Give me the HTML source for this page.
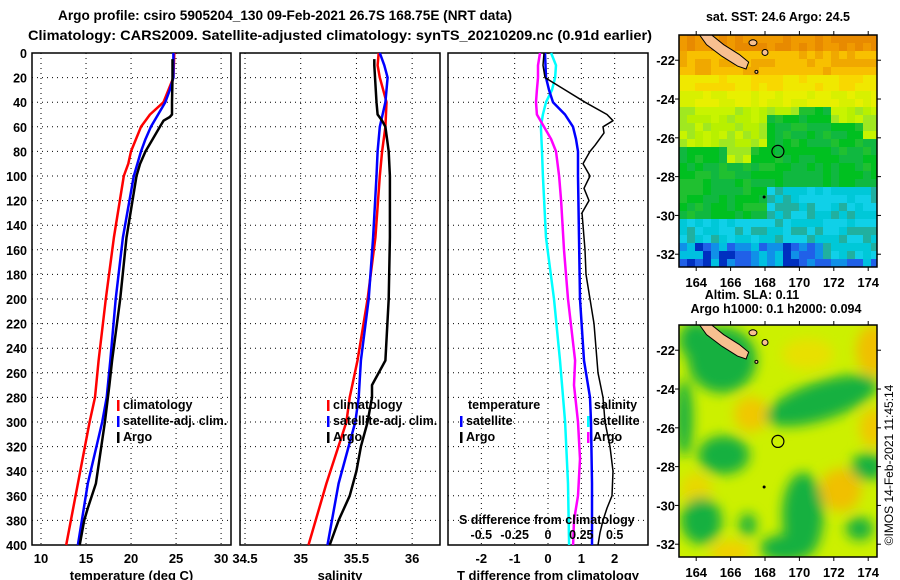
<!DOCTYPE html>
<html><head><meta charset="utf-8">
<style>
html,body{margin:0;padding:0;background:#fff;}
svg{display:block;font-family:"Liberation Sans",Arial,sans-serif;font-weight:bold;}
text{fill:#000;}
</style></head>
<body>
<svg id="fig" width="900" height="580" viewBox="0 0 900 580" xmlns="http://www.w3.org/2000/svg">
<defs>
<filter id="blur" x="-20%" y="-20%" width="140%" height="140%"><feGaussianBlur stdDeviation="6"/></filter>
<clipPath id="clipTop"><rect x="679" y="35" width="198" height="232"/></clipPath>
<clipPath id="clipBot"><rect x="679" y="325" width="198" height="232"/></clipPath>
</defs>
<text x="285" y="20" text-anchor="middle" font-size="14" textLength="454" lengthAdjust="spacingAndGlyphs">Argo profile: csiro 5905204_130 09-Feb-2021 26.7S 168.75E (NRT data)</text>
<text x="340" y="40" text-anchor="middle" font-size="14" textLength="624" lengthAdjust="spacingAndGlyphs">Climatology: CARS2009. Satellite-adjusted climatology: synTS_20210209.nc (0.91d earlier)</text>
<g id="panels"></g>
<g id="maps"></g>
<text transform="translate(893,465) rotate(-90)" text-anchor="middle" font-size="12" font-weight="normal">©IMOS 14-Feb-2021 11:45:14</text>
</svg>
<script>
// ---------- data ----------
const depthTicks = [0,20,40,60,80,100,120,140,160,180,200,220,240,260,280,300,320,340,360,380,400];
const tempTicks = [10,15,20,25,30];
const salTicks = [34.5,35,35.5,36];
const tdiffTicks = [-2,-1,0,1,2];
const sdiffTicks = [-0.5,-0.25,0,0.25,0.5];

const climTDepth = [0,20,40,50,60,80,90,100,150,200,250,280,300,350,400];
const climT      = [24.8,24.7,23.6,22.1,21.1,20.0,19.7,19.2,18.1,17.2,16.4,16.0,15.4,14.1,12.8];
const satTDepth  = [0,20,30,40,50,60,70,80,90,100,150,200,250,280,300,350,400];
const satT       = [24.7,24.7,24.3,23.8,23.0,22.2,21.6,21.1,20.7,20.3,19.1,18.3,17.7,17.3,16.8,15.2,14.1];
const argoTDepth = [5,20,40,50,52,55,60,70,80,90,100,150,200,250,270,300,320,350,370,380,400];
const argoT      = [24.6,24.6,24.55,24.55,24.3,23.6,23.2,22.4,21.6,21.0,20.6,19.5,18.8,17.9,17.6,17.1,16.7,16.1,15.2,14.8,14.3];

const climSDepth = [0,10,20,30,40,60,80,100,150,200,250,280,300,350,400];
const climS      = [35.70,35.69,35.71,35.74,35.77,35.76,35.73,35.71,35.67,35.60,35.51,35.44,35.41,35.23,35.07];
const satSDepth  = [0,10,20,30,40,60,80,100,150,200,250,280,300,350,400];
const satS       = [35.71,35.75,35.78,35.77,35.76,35.71,35.69,35.68,35.65,35.61,35.54,35.52,35.49,35.34,35.24];
const argoSDepth = [5,10,40,50,55,60,80,100,150,200,250,270,280,300,320,340,360,380,400];
const argoS      = [35.66,35.66,35.68,35.69,35.73,35.76,35.79,35.80,35.80,35.79,35.76,35.64,35.64,35.60,35.54,35.50,35.44,35.34,35.26];

const argoTdDepth = [0,10,20,30,40,50,55,60,65,75,80,90,100,110,120,130,140,160,180,200,220,240,260,280,300,320,340,360,370,380,390,400];
const argoTd      = [-0.12,-0.15,-0.09,0.51,1.11,1.77,1.95,1.65,1.68,1.41,1.26,1.05,1.26,1.08,1.23,1.02,1.05,1.11,1.14,1.26,1.38,1.44,1.50,1.65,1.71,1.86,1.95,1.92,1.77,1.65,1.56,1.50];
const satTdDepth  = [0,20,30,40,50,60,70,80,100,150,200,250,280,300,350,400];
const satTd       = [-0.09,-0.06,0.03,0.15,0.51,0.75,0.84,0.90,0.90,0.93,0.96,1.08,1.26,1.29,1.32,1.32];
const argoSdDepth = [0,10,20,30,40,50,60,70,80,100,120,160,200,250,270,300,330,360,380,400];
const argoSd      = [-0.06,-0.075,-0.075,-0.083,-0.09,-0.083,-0.03,0.023,0.06,0.083,0.098,0.12,0.15,0.203,0.195,0.225,0.24,0.225,0.195,0.188];
const satSdDepth  = [0,10,20,30,40,50,60,80,100,150,200,250,300,350,400];
const satSd       = [0.023,0.06,0.053,0.03,-0.015,-0.038,-0.053,-0.045,-0.038,-0.015,0.045,0.09,0.128,0.15,0.158];

const lonTicks = [164,166,168,170,172,174];
const latTicks = [-22,-24,-26,-28,-30,-32];

// ---------- helpers ----------
const NS = "http://www.w3.org/2000/svg";
function mk(tag, attrs, parent){ const e=document.createElementNS(NS,tag); for(const k in attrs) e.setAttribute(k,attrs[k]); parent.appendChild(e); return e; }
function txt(parent, x, y, s, size, anchor){ const t=mk('text',{x:x,y:y,'font-size':size,'text-anchor':anchor||'middle'},parent); t.textContent=s; return t; }
const TOP=53, BOT=545;
const yD = d => TOP + (d/400)*(BOT-TOP);
const panelsG = document.getElementById('panels');

function makePanel(name, x0, x1, vmin, vmax, ticks, tickFmt, title){
  const g = mk('g',{},panelsG);
  
  
  const xs = v => x0 + (v-vmin)/(vmax-vmin)*(x1-x0);
  depthTicks.forEach(d=>{ if(d>0 && d<400){ const l=mk('line',{x1:x0,x2:x1,y1:yD(d),y2:yD(d),stroke:'#000','stroke-width':1,'stroke-dasharray':'1 4'},g);
      }});
  ticks.forEach(v=>{ const x=xs(v); if(x>x0+2 && x<x1-2){ const l=mk('line',{x1:x,x2:x,y1:TOP,y2:BOT,stroke:'#000','stroke-width':1,'stroke-dasharray':'1 4'},g);
      }});
  const r = mk('rect',{x:x0,y:TOP,width:x1-x0,height:BOT-TOP,fill:'none',stroke:'#000','stroke-width':1.5},g);
   
  if(title){
    ticks.forEach(v=>{ const t=txt(g, xs(v), 563, tickFmt(v), 13);
        });
    const tt = txt(g,(x0+x1)/2,580,title,13);
     
  }
  return {g, xs};
}
function line(p, ds, vs, color, w, name, scale){
  const pts = ds.map((d,i)=> p.xs(vs[i]*(scale||1)).toFixed(1)+','+yD(d).toFixed(1)).join(' ');
  const pl = mk('polyline',{points:pts,fill:'none',stroke:color,'stroke-width':w,'stroke-linejoin':'round'},p.g);
  
  
}
function legendItem(g, x, y, color, label, name){
  const r = mk('rect',{x:x,y:y-9,width:2.5,height:11,fill:color},g);
   
  const t = txt(g, x+6, y, label, 12.5, 'start');
   
}

depthTicks.forEach(d=>{ const t=txt(panelsG, 27, yD(d)+5, String(d), 12.5, 'end');
    });

const p1 = makePanel('temperature-panel', 32, 231, 9, 31.1, tempTicks, v=>String(v), 'temperature (deg C)');
line(p1, climTDepth, climT, '#ff0000', 2.5, 'climatology-temperature-line');
line(p1, satTDepth, satT, '#0000ff', 2.5, 'satellite-temperature-line');
line(p1, argoTDepth, argoT, '#000000', 2.5, 'argo-temperature-line');
legendItem(p1.g, 117, 409, '#ff0000', 'climatology', 'legend-climatology');
legendItem(p1.g, 117, 425, '#0000ff', 'satellite-adj. clim.', 'legend-satellite-adj');
legendItem(p1.g, 117, 441, '#000000', 'Argo', 'legend-argo');

const p2 = makePanel('salinity-panel', 240, 440, 34.455, 36.25, salTicks, v=>String(v), 'salinity');
line(p2, climSDepth, climS, '#ff0000', 2.5, 'climatology-salinity-line');
line(p2, satSDepth, satS, '#0000ff', 2.5, 'satellite-salinity-line');
line(p2, argoSDepth, argoS, '#000000', 2.5, 'argo-salinity-line');
legendItem(p2.g, 327, 409, '#ff0000', 'climatology', 'legend-climatology');
legendItem(p2.g, 327, 425, '#0000ff', 'satellite-adj. clim.', 'legend-satellite-adj');
legendItem(p2.g, 327, 441, '#000000', 'Argo', 'legend-argo');

const p3 = makePanel('difference-panel', 448, 648, -3, 3, tdiffTicks, v=>String(v), 'T difference from climatology');
line(p3, satSdDepth, satSd, '#00ffff', 2.5, 'satellite-salinity-diff-line', 4);
line(p3, argoSdDepth, argoSd, '#ff00ff', 2.5, 'argo-salinity-diff-line', 4);
line(p3, satTdDepth, satTd, '#0000ff', 2.5, 'satellite-temperature-diff-line');
line(p3, argoTdDepth, argoTd, '#000000', 1.5, 'argo-temperature-diff-line');
{ const t=txt(p3.g, 468, 409, 'temperature', 12.5, 'start');   }
{ const t=txt(p3.g, 594, 409, 'salinity', 12.5, 'start');   }
legendItem(p3.g, 460, 425, '#0000ff', 'satellite', 'legend-t-satellite');
legendItem(p3.g, 460, 441, '#000000', 'Argo', 'legend-t-argo');
legendItem(p3.g, 587, 425, '#00ffff', 'satellite', 'legend-s-satellite');
legendItem(p3.g, 587, 441, '#ff00ff', 'Argo', 'legend-s-argo');
{ const t=txt(p3.g, 459, 524, 'S difference from climatology', 12.5, 'start');   }
sdiffTicks.forEach(v=>{ const t=txt(p3.g, p3.xs(v*4), 539, String(v), 12.5);
    });

// ---------- maps ----------
const mapsG = document.getElementById('maps');
const MX = lon => 679 + (lon-163)*17.2;
const MY = (lat, off) => 35 + off + (-20.7-lat)*19.4;
function hash(i,j){ let h = (i*374761393 + j*668265263) ^ 0x5bd1e995; h = (h ^ (h>>>13)) * 1274126177; h = h ^ (h>>>16); return ((h>>>0)%1000)/1000; }
function frontier(lon){
  if(lon<166) return -26.6; if(lon<167) return -27.1; if(lon<168) return -26.4;
  if(lon<170) return -25.0; if(lon<172) return -24.4; if(lon<173.5) return -25.3; return -26.2;
}
function sstColor(lon, lat, n){
  const f = frontier(lon);
  if(lat > f){
    if(lat > -21.6) return n<0.5?'#e88a00':'#f09a00';
    if(lat > -22.6) return n<0.4?'#f0a800':'#f8c000';
    if(lat > -23.4) return n<0.5?'#f8d800':'#f0e800';
    if(lat > -24.4) return n<0.5?'#e8f000':'#d8f000';
    return n<0.3?'#b8f000':(n<0.6?'#c8f400':'#a0e820');
  }
  const cy = lon>168.3 ? -28.6 : -30.3;
  if(lat > cy) return n<0.2?'#20c030':(n<0.6?'#00c020':'#10b840');
  if(lat > -31.3 || (lon>171.2 && lat>-32.2)) return n<0.35?'#00c8d8':(n<0.7?'#10d0e8':'#20b0a0');
  return n<0.3?'#2060e8':(n<0.5?'#0030c0':(n<0.8?'#00c0e0':'#1090e8'));
}
const topG = mk('g',{'clip-path':'url(#clipTop)'},mapsG);


for(let i=0;i<25;i++){ for(let j=0;j<29;j++){
  const x=679+i*8, y=35+j*8;
  const lon=163+(x+4-679)/17.2, lat=-20.7-(y+4-35)/19.4;
  const n=hash(i,j);
  mk('rect',{x:x,y:y,width:8.2,height:8.2,fill:sstColor(lon,lat,n)},topG);
}}
const botG = mk('g',{'clip-path':'url(#clipBot)'},mapsG);


mk('rect',{x:679,y:325,width:198,height:232,fill:'#ccf000'},botG);
const blobs = mk('g',{filter:'url(#blur)'},botG);
const G='#18b040';
const blobList = [
 ['#f0c800',167.2,-25.3,1.0,0.9],['#f0c000',172.4,-29.2,1.2,1.1],['#f0c000',174.3,-22,1.0,1.3],['#f0c800',174.3,-26,0.8,1.0],
 ['#f0d000',166,-32.4,1.2,0.6],['#e8d800',164,-29.2,0.9,0.9],['#e8e000',170.5,-22.2,1.5,0.8],
 [G,165.5,-22.5,2.0,1.7],[G,164,-21.5,1.0,1.0],[G,163.3,-25.5,0.5,2],[G,165.6,-27.4,1.5,1.0],
 [G,170.2,-30.5,1.2,2.2],[G,169.2,-32.2,1.5,0.7],[G,164.3,-30.8,1.2,1.2],[G,167,-31,0.5,0.6],
 [G,174,-28,1,0.7],[G,173.5,-31.2,0.8,0.6]
];
blobList.forEach(b=>{ const e=mk('ellipse',{cx:MX(b[1]),cy:MY(b[2],290),rx:b[3]*17.2,ry:b[4]*19.4,fill:b[0]},blobs);
    });
{ const e=mk('ellipse',{cx:MX(171.3),cy:MY(-24.6,290),rx:3.4*17.2,ry:1.0*19.4,fill:G,transform:`rotate(-18 ${MX(171.3)} ${MY(-24.6,290)})`},blobs);
    }

[[0,'sst'],[290,'sla']].forEach(([off,nm])=>{
  const g = mk('g',{},mapsG);
  
  
  const land=[[164.2,-20.7],[164.9,-20.7],[165.6,-21.2],[166.5,-21.7],[167.05,-22.1],[166.9,-22.45],[166.4,-22.3],[165.5,-21.8],[164.6,-21.2]];
  mk('polygon',{points:land.map(p=>MX(p[0])+','+MY(p[1],off)).join(' '),fill:'#f8c090',stroke:'#000','stroke-width':1},g);
  mk('ellipse',{cx:MX(167.3),cy:MY(-21.1,off),rx:4,ry:3,fill:'#f8c090',stroke:'#000','stroke-width':1},g);
  mk('ellipse',{cx:MX(168),cy:MY(-21.6,off),rx:3,ry:3,fill:'#f8c090',stroke:'#000','stroke-width':1},g);
  mk('circle',{cx:MX(167.5),cy:MY(-22.6,off),r:1.5,fill:'#f8c090',stroke:'#000','stroke-width':1},g);
  mk('circle',{cx:MX(167.95),cy:MY(-29.05,off),r:1.5,fill:'#000'},g);
  const c=mk('circle',{cx:MX(168.75),cy:MY(-26.7,off),r:6,fill:'none',stroke:'#000','stroke-width':1.2},g);
   
  const fr=mk('rect',{x:679,y:35+off,width:198,height:232,fill:'none',stroke:'#000','stroke-width':1.5},g);
   
  lonTicks.forEach(l=>{ mk('line',{x1:MX(l),x2:MX(l),y1:35+off,y2:31+off,stroke:'#000'},g);
    mk('line',{x1:MX(l),x2:MX(l),y1:267+off,y2:271+off,stroke:'#000'},g);
    const t=txt(g, MX(l), 287+off, String(l), 13);   });
  latTicks.forEach(l=>{ mk('line',{x1:675,x2:679,y1:MY(l,off),y2:MY(l,off),stroke:'#000'},g);
    mk('line',{x1:877,x2:881,y1:MY(l,off),y2:MY(l,off),stroke:'#000'},g);
    const t=txt(g, 675, MY(l,off)+5, String(l), 13, 'end');   });
});
{ const t=txt(mapsG, 778, 21, 'sat. SST: 24.6 Argo: 24.5', 12.5);   }
{ const t=txt(mapsG, 752, 299, 'Altim. SLA: 0.11', 12.5);   }
{ const t=txt(mapsG, 776, 313, 'Argo h1000: 0.1 h2000: 0.094', 12.5);   }
</script>
</body></html>
